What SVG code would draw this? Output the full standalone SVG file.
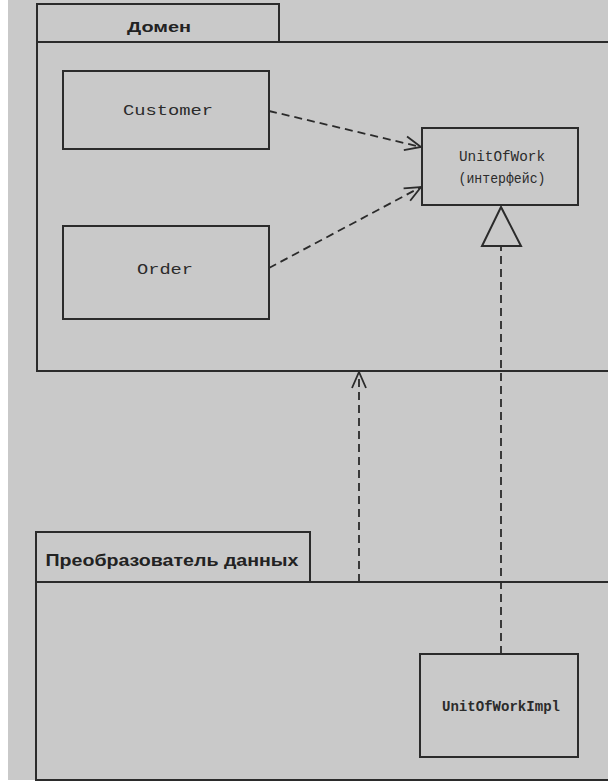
<svg xmlns="http://www.w3.org/2000/svg" width="608" height="782" viewBox="0 0 608 782">
<style>
.ln{fill:none;stroke:#2b2b2b;stroke-width:2}
.dash{fill:none;stroke:#2b2b2b;stroke-width:1.8;stroke-dasharray:8 5}
.mono{font-family:"Liberation Mono","DejaVu Sans Mono",monospace;font-size:14px;fill:#2b2b2b;text-anchor:middle}
.pkg{font-family:"Liberation Sans","DejaVu Sans",sans-serif;font-weight:bold;fill:#222;text-anchor:middle}
</style>
<defs>
<marker id="open" viewBox="0 0 20 20" refX="18" refY="10" markerWidth="20" markerHeight="20" markerUnits="userSpaceOnUse" orient="auto">
<path d="M2,3 L18,10 L2,17" fill="none" stroke="#2b2b2b" stroke-width="1.8"/>
</marker>
</defs>
<rect x="0" y="0" width="608" height="782" fill="#ffffff"/>
<rect x="8" y="0" width="600" height="780" fill="#c9c9c9"/>

<g id="domain">
<path class="ln" d="M37,42 V4 H279 V42"/>
<path class="ln" d="M608,42 H37 V371 H608"/>
<text class="pkg" x="159" y="32" font-size="14" textLength="64" lengthAdjust="spacingAndGlyphs">Домен</text>
</g>

<g id="customer">
<rect class="ln" x="63" y="71" width="206" height="78"/>
<text class="mono" x="168" y="115" textLength="90" lengthAdjust="spacingAndGlyphs">Customer</text>
</g>

<g id="order">
<rect class="ln" x="63" y="226" width="206" height="93"/>
<text class="mono" x="165" y="274" textLength="56" lengthAdjust="spacingAndGlyphs">Order</text>
</g>

<g id="unitofwork">
<rect class="ln" x="422" y="128" width="156" height="77"/>
<text class="mono" x="502" y="161" textLength="86" lengthAdjust="spacingAndGlyphs">UnitOfWork</text>
<text class="mono" x="502" y="183" textLength="87" lengthAdjust="spacingAndGlyphs">(интерфейс)</text>
</g>

<g id="datamapper">
<path class="ln" d="M36,582 V532 H310 V582"/>
<path class="ln" d="M608,582 H36 V780 H608"/>
<text class="pkg" x="172" y="566" font-size="17" textLength="253" lengthAdjust="spacingAndGlyphs">Преобразователь данных</text>
</g>

<g id="unitofworkimpl">
<rect class="ln" x="420" y="654" width="158" height="103"/>
<text class="mono" x="501" y="711" font-weight="bold" textLength="118" lengthAdjust="spacingAndGlyphs">UnitOfWorkImpl</text>
</g>

<g id="connectors">
<line class="dash" x1="269" y1="111" x2="421" y2="147" marker-end="url(#open)"/>
<line class="dash" x1="269" y1="268" x2="421" y2="187" marker-end="url(#open)"/>
<line class="dash" x1="359" y1="582" x2="359" y2="372" marker-end="url(#open)"/>
<line class="dash" x1="501" y1="654" x2="501" y2="246"/>
<path class="ln" d="M501,207 L521,246 H482 Z" fill="#c9c9c9"/>
</g>
</svg>
